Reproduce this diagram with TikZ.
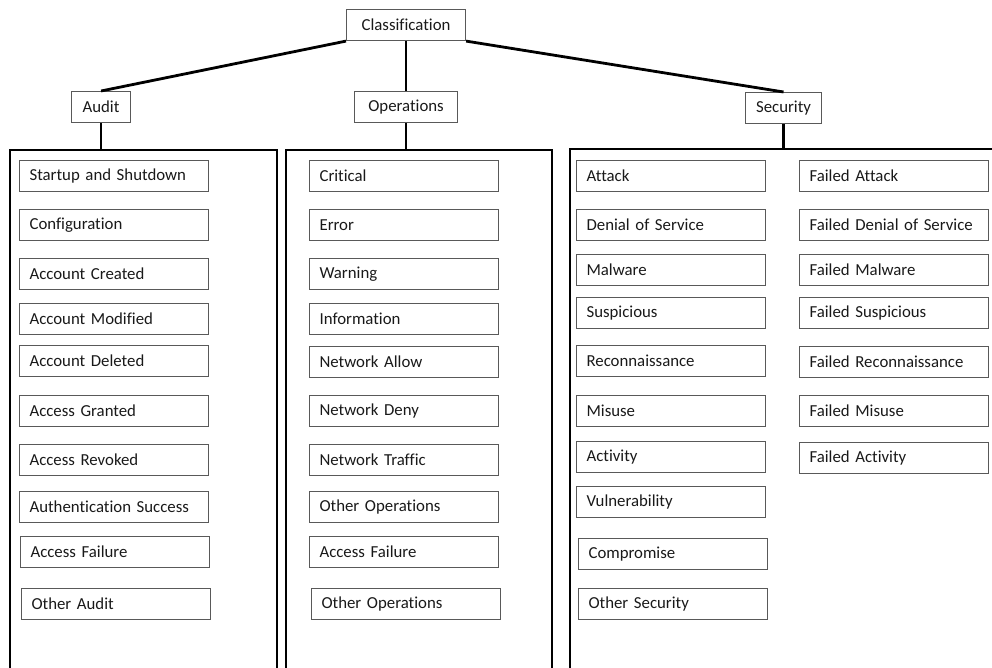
\documentclass[tikz,border=0pt]{standalone}
\usepackage{fontspec}
\setmainfont[Ligatures=NoCommon]{Carlito}
\begin{document}
\begin{tikzpicture}[x=1pt,y=-1pt,
  box/.style={draw=black!65, line width=1.1pt, anchor=north west, inner xsep=10pt, inner ysep=0pt,
    minimum height=31pt, text width=169pt, align=left, font=\fontsize{16.8}{19}\selectfont, text=black!90},
  head/.style={draw=black!65, line width=1.1pt, anchor=north west, inner sep=0pt,
    minimum height=31pt, font=\fontsize{16.8}{19}\selectfont, text=black!90},
  conn/.style={line width=2.8pt},
  panel/.style={line width=2.8pt}]
\useasboundingbox (0,0) rectangle (992,668);
% top-level
\node[head, minimum width=119pt] (class) at (346,9) {Classification};
\node[head, minimum width=59pt] (audit) at (71,91) {Audit};
\node[head, minimum width=103pt] (ops) at (354,91) {Operations};
\node[head, minimum width=76pt] (sec) at (745,92) {Security};
\draw[conn] (class.south west) -- (audit.north);
\draw[conn] (class.south) -- (ops.north);
\draw[conn] (class.south east) -- (sec.north);
% panels
\coordinate (ap) at (101,150);
\coordinate (op) at (406,150);
\coordinate (sp) at (784,149);
\draw[panel] (10,668) -- (10,150) -- (277,150) -- (277,668);
\draw[panel] (286,668) -- (286,150) -- (552,150) -- (552,668);
\draw[panel] (570,668) -- (570,149) -- (993,149);
\draw[conn] (audit.south) -- (audit.south |- ap);
\draw[conn] (ops.south) -- (ops.south |- op);
\draw[conn] (sec.south) -- (sec.south |- sp);
% audit items
\node[box] (a1) at (19,160) {Startup and Shutdown};
\node[box] (a2) at (19,209) {Configuration};
\node[box] (a3) at (19,258) {Account Created};
\node[box] (a4) at (19,303) {Account Modified};
\node[box] (a5) at (19,345) {Account Deleted};
\node[box] (a6) at (19,395) {Access Granted};
\node[box] (a7) at (19,444) {Access Revoked};
\node[box] (a8) at (19,491) {Authentication Success};
\node[box] (a9) at (20,536) {Access Failure};
\node[box] (a10) at (21,588) {Other Audit};
% operations items
\node[box] (o1) at (309,160) {Critical};
\node[box] (o2) at (309,209) {Error};
\node[box] (o3) at (309,258) {Warning};
\node[box] (o4) at (309,303) {Information};
\node[box] (o5) at (309,346) {Network Allow};
\node[box] (o6) at (309,395) {Network Deny};
\node[box] (o7) at (309,444) {Network Traffic};
\node[box] (o8) at (309,491) {Other Operations};
\node[box] (o9) at (309,536) {Access Failure};
\node[box] (o10) at (311,588) {Other Operations};
% security items
\node[box] (s1) at (576,160) {Attack};
\node[box] (s2) at (576,209) {Denial of Service};
\node[box] (s3) at (576,254) {Malware};
\node[box] (s4) at (576,297) {Suspicious};
\node[box] (s5) at (576,345) {Reconnaissance};
\node[box] (s6) at (576,395) {Misuse};
\node[box] (s7) at (576,441) {Activity};
\node[box] (s8) at (576,486) {Vulnerability};
\node[box] (s9) at (578,538) {Compromise};
\node[box] (s10) at (578,588) {Other Security};
\node[box] (f1) at (799,160) {Failed Attack};
\node[box] (f2) at (799,209) {Failed Denial of Service};
\node[box] (f3) at (799,254) {Failed Malware};
\node[box] (f4) at (799,297) {Failed Suspicious};
\node[box] (f5) at (799,346) {Failed Reconnaissance};
\node[box] (f6) at (799,395) {Failed Misuse};
\node[box] (f7) at (799,442) {Failed Activity};
\end{tikzpicture}
\end{document}
